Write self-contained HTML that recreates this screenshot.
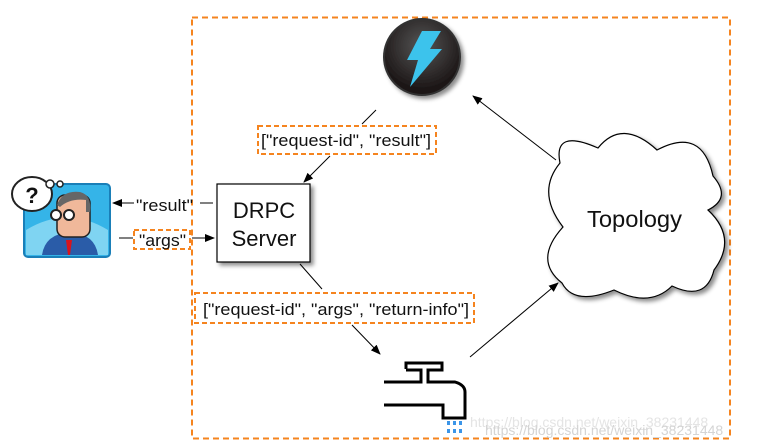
<!DOCTYPE html>
<html><head><meta charset="utf-8"><style>
html,body{margin:0;padding:0;background:#fff;width:763px;height:448px;overflow:hidden}
svg{display:block}
text{font-family:"Liberation Sans",sans-serif;fill:#111}
</style></head><body>
<svg width="763" height="448" viewBox="0 0 763 448" xmlns="http://www.w3.org/2000/svg">
<defs>
<marker id="ah" markerWidth="10" markerHeight="8" refX="9" refY="4" orient="auto" markerUnits="userSpaceOnUse">
<path d="M0,0 L10,4 L0,8 Z" fill="#000"/></marker>
<filter id="sh" x="-20%" y="-20%" width="150%" height="150%"><feDropShadow dx="3" dy="3" stdDeviation="2" flood-color="#000" flood-opacity="0.45"/></filter>
<radialGradient id="sg" cx="50%" cy="35%" r="60%"><stop offset="0" stop-color="#555"/><stop offset="1" stop-color="#1a1414"/></radialGradient>
</defs>
<rect x="192" y="17.5" width="538" height="421" fill="none" stroke="#f5841f" stroke-width="2" stroke-dasharray="6,4"/>
<circle cx="422" cy="57" r="38" fill="url(#sg)" stroke="#333" stroke-width="2" filter="url(#sh)"/>
<path d="M422,31 L441,31 L430,49 L442,49 L410,87 L418,60 L407,60 Z" fill="#3cc3ec"/>
<path d="M560,163 Q553,128 598,148 Q622,118 657,150 Q702,126 713,176 Q732,198 708,210 Q738,238 714,270 Q706,302 672,286 Q650,308 614,290 Q574,306 562,283 Q533,260 563,227 Q536,192 560,163 Z" fill="#fff" stroke="#000" stroke-width="1.2" filter="url(#sh)"/>
<text x="587" y="227" font-size="23" textLength="95" lengthAdjust="spacingAndGlyphs">Topology</text>
<rect x="217" y="184" width="93" height="78" fill="#fff" stroke="#000" stroke-width="1.2" filter="url(#sh)"/>
<text x="264" y="218" font-size="22" text-anchor="middle">DRPC</text>
<text x="264" y="246" font-size="22" text-anchor="middle">Server</text>
<rect x="258" y="126" width="178" height="28" fill="#fff" stroke="#f5841f" stroke-width="2" stroke-dasharray="5,3"/>
<text x="261" y="146" font-size="17" textLength="170" lengthAdjust="spacingAndGlyphs">["request-id", "result"]</text>
<rect x="195" y="293" width="279" height="30" fill="#fff" stroke="#f5841f" stroke-width="2" stroke-dasharray="5,3"/>
<text x="203" y="315" font-size="17" textLength="266" lengthAdjust="spacingAndGlyphs">["request-id", "args", "return-info"]</text>
<rect x="134" y="230" width="56" height="19" fill="#fff" stroke="#f5841f" stroke-width="2" stroke-dasharray="5,3"/>
<text x="139" y="246" font-size="17" textLength="47" lengthAdjust="spacingAndGlyphs">"args"</text>
<text x="136" y="211" font-size="17" textLength="57" lengthAdjust="spacingAndGlyphs">"result"</text>
<line x1="376" y1="110" x2="362" y2="124" stroke="#000"/>
<line x1="330" y1="156" x2="304" y2="182" stroke="#000" marker-end="url(#ah)"/>
<line x1="556" y1="160" x2="473" y2="96" stroke="#000" marker-end="url(#ah)"/>
<line x1="300" y1="264" x2="322" y2="289" stroke="#000"/>
<line x1="352" y1="325" x2="380" y2="354" stroke="#000" marker-end="url(#ah)"/>
<line x1="470" y1="357" x2="558" y2="283" stroke="#000" marker-end="url(#ah)"/>
<line x1="200" y1="203" x2="213" y2="203" stroke="#000"/>
<line x1="134" y1="203" x2="113" y2="203" stroke="#000" marker-end="url(#ah)"/>
<line x1="119" y1="238" x2="133" y2="238" stroke="#000"/>
<line x1="192" y1="238" x2="214" y2="238" stroke="#000" marker-end="url(#ah)"/>
<rect x="24" y="184" width="86" height="73" rx="4" fill="#35b4e8" stroke="#1a7fb8" stroke-width="2"/>
<path d="M26,230 Q67,205 108,230 L108,255 L26,255Z" fill="#7fd4f2"/>
<path d="M42,255 Q45,234 70,232 Q95,234 98,255Z" fill="#2a5ca8"/>
<path d="M66,240 L72,240 L70,255 L68,255Z" fill="#d8141c"/>
<rect x="57" y="195" width="33" height="42" rx="8" fill="#f0b89a" stroke="#222" stroke-width="1.5"/>
<path d="M57,205 Q62,190 80,192 Q92,195 90,212 L86,212 L86,200 Q70,198 60,207Z" fill="#666"/>
<circle cx="56" cy="215" r="5" fill="#fff" stroke="#222" stroke-width="2"/>
<circle cx="69" cy="215" r="5" fill="#fff" stroke="#222" stroke-width="2"/>
<ellipse cx="32" cy="194" rx="20" ry="17" fill="#fff" stroke="#222" stroke-width="2"/>
<circle cx="50" cy="184" r="4" fill="#fff" stroke="#222" stroke-width="1.5"/>
<circle cx="60" cy="184" r="3" fill="#fff" stroke="#222" stroke-width="1.5"/>
<text x="32" y="203" font-size="22" font-weight="bold" text-anchor="middle">?</text>
<g fill="none" stroke="#000" stroke-width="3">
<path d="M406,369 L406,363 L442,363 L442,370 L428,370 L428,382 L455,382 Q465,385 465,392 L465,418 L443,418 L443,405 L384,405"/>
<path d="M384,382 L421,382 L421,370 L406,370"/>
</g>
<g fill="#3b95e8">
<rect x="447" y="421" width="3" height="4"/><rect x="453" y="421" width="3" height="4"/><rect x="459" y="421" width="3" height="4"/>
<rect x="447" y="429" width="3" height="4"/><rect x="453" y="429" width="3" height="4"/><rect x="459" y="429" width="3" height="4"/>
</g>
<text x="470" y="427" font-size="14" style="fill:#e4e4e4">https://blog.csdn.net/weixin_38231448</text>
<text x="485" y="435" font-size="14" style="fill:#d4d4d4">https://blog.csdn.net/weixin_38231448</text>
</svg>
</body></html>
